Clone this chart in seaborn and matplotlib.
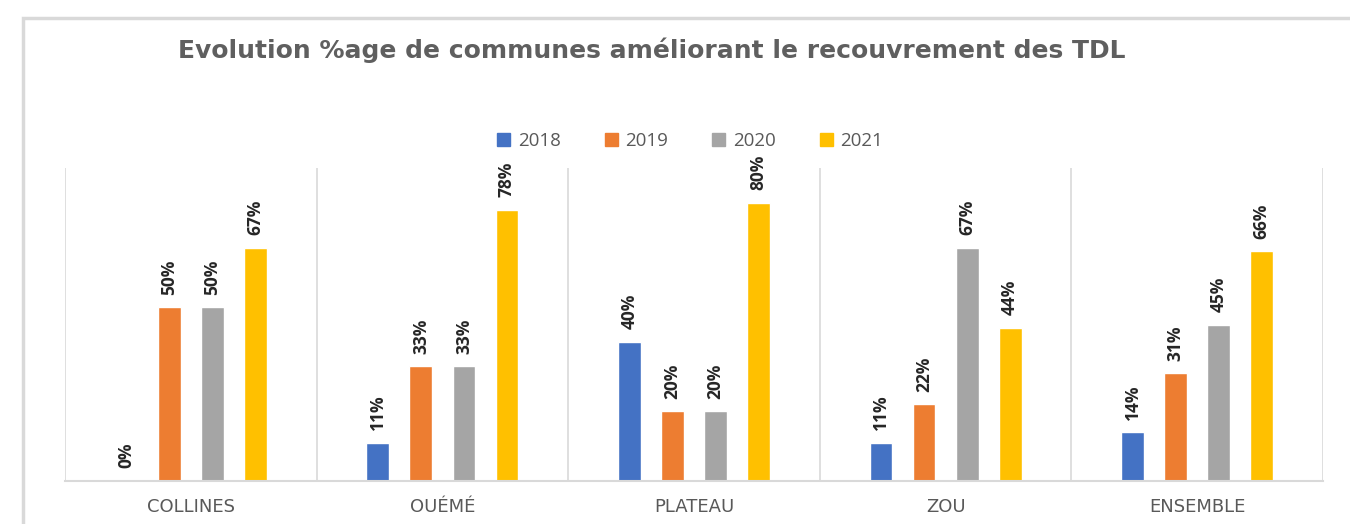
import pandas as pd
import matplotlib.pyplot as plt
import matplotlib.patches as mpatches
import seaborn as sns

# --- data ---
regions = ['COLLINES', 'OUÉMÉ', 'PLATEAU', 'ZOU', 'ENSEMBLE']
years = ['2018', '2019', '2020', '2021']
v2018 = [0.00, 0.11, 0.40, 0.11, 0.14]
v2019 = [0.50, 0.33, 0.20, 0.22, 0.31]
v2020 = [0.50, 0.33, 0.20, 0.67, 0.45]
v2021 = [0.67, 0.78, 0.80, 0.44, 0.66]
colors = ['#4472C4', '#ED7D31', '#A5A5A5', '#FFC000']

rows = []
for yr, vals in zip(years, [v2018, v2019, v2020, v2021]):
    for reg, v in zip(regions, vals):
        rows.append({'region': reg, 'year': yr, 'value': v})
df = pd.DataFrame(rows)

sns.set_style('white')
plt.rcParams['font.family'] = ['Open Sans', 'DejaVu Sans']

fig = plt.figure(figsize=(13.5, 5.24), dpi=100)
# outer chart frame
fig.patches.append(mpatches.Rectangle((23 / 1350, -0.1), 1.2, 1 - 18 / 524 + 0.1,
                                      transform=fig.transFigure, fill=False,
                                      edgecolor='#d9d9d9', linewidth=2.5))

ax = fig.add_axes([65 / 1350, 1 - 481 / 524, (1323 - 65) / 1350, (481 - 168) / 524])
sns.barplot(data=df, x='region', y='value', hue='year', palette=colors,
            width=0.684, gap=0.47, ax=ax, legend=False, saturation=1)

for cont, yr in zip(ax.containers, years):
    labels = [f'{v:.0%}' for v in cont.datavalues]
    ax.bar_label(cont, labels=labels, rotation=90, padding=9,
                 fontsize=12.5, fontweight='bold', color='#262626')

ax.set_ylim(0, 0.9)
ax.set_xlim(-0.5, len(regions) - 0.5)
for xb in range(len(regions) + 1):
    ax.axvline(xb - 0.5, color='#d9d9d9', linewidth=1.2, zorder=0)
sns.despine(ax=ax, left=True, top=True, right=True)
ax.spines['bottom'].set_color('#d9d9d9')
ax.spines['bottom'].set_linewidth(1.5)
ax.set_yticks([])
ax.set_xlabel('')
ax.set_ylabel('')
ax.tick_params(axis='x', length=0, pad=12, labelcolor='#595959')
for t in ax.get_xticklabels():
    t.set_fontsize(13)
    t.set_fontfamily(['DejaVu Sans'])

handles = [mpatches.Patch(color=c, label=y) for c, y in zip(colors, years)]
fig.legend(handles=handles, loc='center', bbox_to_anchor=(690 / 1350, 1 - 141 / 524),
           ncol=4, frameon=False, fontsize=13.5, labelcolor='#595959',
           handlelength=0.7, handleheight=0.7, handletextpad=0.4, columnspacing=2.35)

fig.text(652 / 1350, 1 - 50 / 524,
         'Evolution %age de communes améliorant le recouvrement des TDL',
         ha='center', va='center', fontsize=18, fontweight='bold', color='#5f5f5f',
         family=['DejaVu Sans'])

fig.savefig('out.png', dpi=100)
